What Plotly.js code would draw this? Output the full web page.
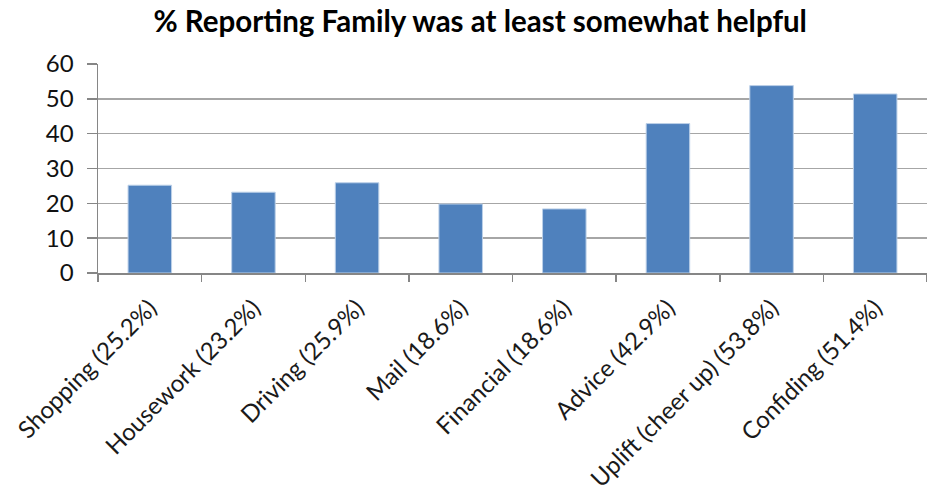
<!DOCTYPE html>
<html>
<head>
<meta charset="utf-8">
<script src="https://cdn.plot.ly/plotly-3.0.1.min.js"></script>
<style>html,body{margin:0;padding:0;background:#fff;}#chart{width:927px;height:491px;}</style>
</head>
<body>
<div id="chart"></div>
<script>
const categories = ["Shopping (25.2%)", "Housework (23.2%)", "Driving (25.9%)", "Mail (18.6%)", "Financial (18.6%)", "Advice (42.9%)", "Uplift (cheer up) (53.8%)", "Confiding (51.4%)"];
const values = [25.2, 23.2, 25.9, 19.8, 18.4, 42.9, 53.8, 51.4];
const yTicks = [0, 10, 20, 30, 40, 50, 60];
const titleText = "% Reporting Family was at least somewhat helpful";

const font = "Lato, 'Open Sans', sans-serif";
Plotly.newPlot("chart", [{
  type: "bar",
  x: categories,
  y: values,
  marker: {color: "#4F81BD", line: {color: "#BCD0E8", width: 1}},
  hoverinfo: "x+y"
}], {
  width: 927, height: 491,
  margin: {l: 98, r: 0, t: 64, b: 218},
  paper_bgcolor: "#fff", plot_bgcolor: "#fff",
  bargap: 0.58,
  showlegend: false,
  title: {text: titleText, x: 0.518, xanchor: "center", y: 0.955, yanchor: "middle",
          font: {family: font, size: 29.5, color: "#000", weight: "bold"}},
  xaxis: {
    type: "category",
    automargin: false,
    tickangle: -45,
    tickson: "boundaries",
    ticks: "outside", ticklen: 7, tickcolor: "#868686", tickwidth: 1.5,
    ticklabelstandoff: 10,
    showline: true, linecolor: "#868686", linewidth: 1.5,
    showgrid: false,
    tickfont: {family: font, size: 24, color: "#1a1a1a"}
  },
  yaxis: {
    range: [0, 60],
    automargin: false,
    tickvals: yTicks,
    ticks: "outside", ticklen: 10, tickcolor: "#868686", tickwidth: 1.5,
    ticklabelstandoff: 8,
    showline: true, linecolor: "#868686", linewidth: 1.5,
    showgrid: true, gridcolor: "#A6A6A6", gridwidth: 1.5,
    zeroline: false,
    tickfont: {family: font, size: 24, color: "#111"}
  }
}, {displayModeBar: false, staticPlot: true});
</script>
</body>
</html>
